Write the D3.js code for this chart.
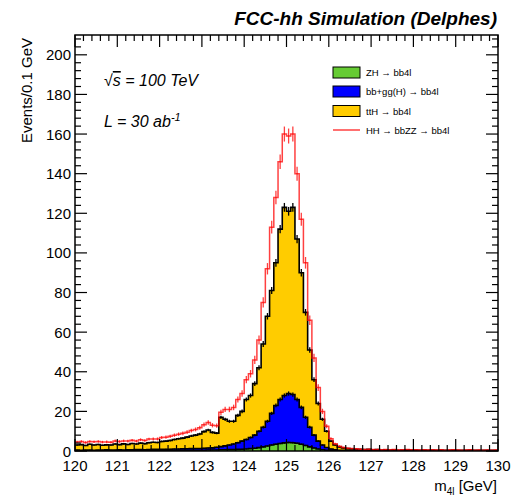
<!DOCTYPE html>
<html>
<head>
<meta charset="utf-8">
<script src="https://cdn.jsdelivr.net/npm/d3@7"></script>
<style>
  body { margin: 0; background: #fff; }
  text { font-family: "Liberation Sans", Arial, Helvetica, sans-serif; }
</style>
</head>
<body>
<script>
// m4l histogram, 100 bins of 0.1 GeV from 120 to 130
var xMin = 120, xMax = 130, binWidth = 0.1;

var zh = [
  0.1,0.1,0.1,0.1,0.1,0.1,0.1,0.1,0.1,0.1,
  0.1,0.1,0.1,0.1,0.1,0.2,0.1,0.2,0.2,0.2,
  0.2,0.2,0.2,0.2,0.3,0.3,0.3,0.3,0.4,0.4,
  0.4,0.5,0.5,0.5,0.6,0.6,0.7,0.7,0.8,0.9,
  1.0,1.2,1.4,1.7,2.1,2.5,3.0,3.4,3.8,4.1,
  4.3,4.2,3.9,3.4,2.8,2.1,1.5,1.0,0.6,0.4,
  0.25,0.15,0.1,0.1,0.05,0.05,0.05,0,0,0,
  0,0,0,0,0,0,0,0,0,0,
  0,0,0,0,0,0,0,0,0,0,
  0,0,0,0,0,0,0,0,0,0
];

var bbH = [
  0.4,0.3,0.4,0.4,0.3,0.4,0.4,0.5,0.4,0.4,
  0.5,0.4,0.5,0.5,0.6,0.5,0.5,0.5,0.6,0.6,
  0.6,0.7,0.7,0.8,0.7,0.8,0.8,0.9,0.9,0.9,
  1.0,1.0,1.1,1.4,1.6,2.0,2.3,2.8,3.4,4.1,
  4.8,5.6,6.6,8.3,9.9,12.5,16,19.6,22.2,23.9,
  24.7,24.3,22.1,18.6,14.2,9.9,6.5,4.0,2.4,1.4,
  0.75,0.45,0.3,0.2,0.25,0.15,0.15,0.2,0.1,0.1,
  0.1,0.1,0.1,0.1,0.1,0.1,0.1,0.1,0.1,0.1,
  0.1,0.1,0.1,0.1,0.1,0.1,0.1,0.1,0.1,0.1,
  0.1,0.1,0.1,0.1,0.1,0.1,0.1,0.1,0.1,0.1
];

var ttH = [
  2.5,2.8,2.3,2.9,2.6,2.8,2.4,2.5,2.5,3.0,
  2.6,3.1,2.7,3.2,2.8,3.3,3.1,3.5,3.6,3.5,
  4.0,4.1,4.4,4.8,5.2,5.4,5.9,6.4,6.7,7.3,
  8.4,9.1,7.8,7.1,14.8,13.4,12,11.5,13.8,15,
  20.2,21.2,26,32,42,53,62,72,86,95,
  92,94.5,81,68,53,39,28,19,13,8.2,
  4,2.4,1.6,1.2,0.9,0.8,0.7,0.6,0.6,0.7,
  0.5,0.6,0.4,0.5,0.4,0.5,0.3,0.4,0.5,0.4,
  0.4,0.3,0.4,0.3,0.4,0.3,0.4,0.2,0.3,0.4,
  0.3,0.2,0.3,0.4,0.2,0.3,0.2,0.3,0.2,0.3
];

var hh = [
  1.5,1.6,1.5,1.4,1.7,1.5,1.6,1.5,1.4,1.6,
  1.6,1.5,1.7,1.6,1.5,1.7,1.6,1.8,1.7,1.8,
  2.0,2.0,2.1,2.2,2.3,2.4,2.5,2.7,2.9,3.1,
  3.5,3.8,3.6,3.8,2.5,5.0,6,7,8,9,
  10,11,12,14,21,24,32,33,34,37,
  38,37,33,27,25,15,11,8,4,2.5,
  1.2,0.6,0.4,0.3,0.2,0.2,0.2,0.1,0.1,0.1,
  0.1,0.1,0.1,0.1,0.1,0.1,0.1,0.1,0.1,0.1,
  0.1,0.1,0.1,0.1,0.1,0.1,0.1,0.1,0.1,0.1,
  0.1,0.1,0.1,0.1,0.1,0.1,0.1,0.1,0.1,0.1
];

var legendLabels = ["ZH \u2192 bb4l", "bb+gg(H) \u2192 bb4l", "ttH \u2192 bb4l", "HH \u2192 bbZZ \u2192 bb4l"];
var fillColors = ["#66cc33", "#0000ff", "#ffcc00"];
var xTicks = d3.range(120, 131, 1);
var yTicks = d3.range(0, 201, 20);

var width = 512, height = 500;
var margin = {left: 75, right: 14, top: 35, bottom: 49};

var svg = d3.select("body").append("svg")
    .attr("width", width)
    .attr("height", height);

var x = d3.scaleLinear().domain([xMin, xMax]).range([margin.left, width - margin.right]);
var y = d3.scaleLinear().domain([0, 210]).range([height - margin.bottom, margin.top]);

svg.append("clipPath").attr("id", "plotclip")
  .append("rect")
    .attr("x", x(xMin)).attr("y", y(210))
    .attr("width", x(xMax) - x(xMin)).attr("height", y(0) - y(210));

// cumulative stacks
var cumZH = zh.slice();
var cumBB = zh.map(function (v, i) { return v + bbH[i]; });
var cumTT = cumBB.map(function (v, i) { return v + ttH[i]; });
var cumHH = cumTT.map(function (v, i) { return v + hh[i]; });

var stepPoints = function (vals) {
  var pts = vals.map(function (v, i) { return [xMin + i * binWidth, v]; });
  pts.push([xMax, vals[vals.length - 1]]);
  return pts;
};

var area = d3.area()
    .x(function (d) { return x(d[0]); })
    .y0(y(0))
    .y1(function (d) { return y(d[1]); })
    .curve(d3.curveStepAfter);

var line = d3.line()
    .x(function (d) { return x(d[0]); })
    .y(function (d) { return y(d[1]); })
    .curve(d3.curveStepAfter);

var plot = svg.append("g").attr("clip-path", "url(#plotclip)");

var drawErrors = function (vals, k, color, opacity) {
  plot.append("g").selectAll("line")
    .data(vals)
    .enter().append("line")
      .attr("x1", function (d, i) { return x(xMin + (i + 0.5) * binWidth); })
      .attr("x2", function (d, i) { return x(xMin + (i + 0.5) * binWidth); })
      .attr("y1", function (d) { return y(d - k * Math.sqrt(d)); })
      .attr("y2", function (d) { return y(d + k * Math.sqrt(d)); })
      .attr("stroke", color)
      .attr("stroke-opacity", opacity)
      .attr("stroke-width", 1.3);
};

// filled stack, largest first
[[cumTT, fillColors[2]], [cumBB, fillColors[1]], [cumZH, fillColors[0]]].forEach(function (s) {
  plot.append("path")
    .attr("d", area(stepPoints(s[0])))
    .attr("fill", s[1]);
});

[cumZH, cumBB, cumTT].forEach(function (s) {
  plot.append("path")
    .attr("d", line(stepPoints(s)))
    .attr("fill", "none")
    .attr("stroke", "#000")
    .attr("stroke-width", 1.6);
  drawErrors(s, 0.2, "#000", 1);
});

// HH on top of everything
plot.append("path")
  .attr("d", line(stepPoints(cumHH)))
  .attr("fill", "none")
  .attr("stroke", "#ff0000")
  .attr("stroke-opacity", 0.75)
  .attr("stroke-width", 1.5);
drawErrors(cumHH, 0.3, "#ff0000", 0.75);

// frame and ticks
var axes = svg.append("g").attr("stroke", "#000").attr("stroke-width", 1.2);
var x0 = x(xMin), x1 = x(xMax), y0 = y(0), y1 = y(210);

d3.range(120, 130.001, 0.2).forEach(function (t) {
  var major = Math.abs(t - Math.round(t)) < 1e-6;
  var len = major ? 12 : 6;
  axes.append("line").attr("x1", x(t)).attr("x2", x(t)).attr("y1", y0).attr("y2", y0 - len);
  axes.append("line").attr("x1", x(t)).attr("x2", x(t)).attr("y1", y1).attr("y2", y1 + len);
});

d3.range(0, 210.001, 4).forEach(function (t) {
  var major = t % 20 === 0;
  var len = major ? 12 : 6;
  axes.append("line").attr("x1", x0).attr("x2", x0 + len).attr("y1", y(t)).attr("y2", y(t));
  axes.append("line").attr("x1", x1).attr("x2", x1 - len).attr("y1", y(t)).attr("y2", y(t));
});

svg.append("rect")
  .attr("x", x0).attr("y", y1)
  .attr("width", x1 - x0).attr("height", y0 - y1)
  .attr("fill", "none").attr("stroke", "#000").attr("stroke-width", 1.5);

svg.append("g").selectAll("text")
  .data(xTicks)
  .enter().append("text")
    .attr("x", function (d) { return x(d); })
    .attr("y", y0 + 20)
    .attr("text-anchor", "middle")
    .attr("font-size", 15)
    .text(function (d) { return d; });

svg.append("g").selectAll("text")
  .data(yTicks)
  .enter().append("text")
    .attr("x", x0 - 4)
    .attr("y", function (d) { return y(d) + 5.5; })
    .attr("text-anchor", "end")
    .attr("font-size", 15)
    .text(function (d) { return d; });

// titles
svg.append("text")
  .attr("x", 497).attr("y", 25)
  .attr("text-anchor", "end")
  .attr("font-size", 19)
  .attr("font-weight", "bold")
  .attr("font-style", "italic")
  .text("FCC-hh Simulation (Delphes)");

svg.append("text")
  .attr("transform", "translate(32,38) rotate(-90)")
  .attr("text-anchor", "end")
  .attr("font-size", 15)
  .text("Events/0.1 GeV");

var xt = svg.append("text")
  .attr("x", 497).attr("y", 491)
  .attr("text-anchor", "end")
  .attr("font-size", 15);
xt.append("tspan").text("m");
xt.append("tspan").attr("font-size", 10).attr("dy", 4).text("4l");
xt.append("tspan").attr("dy", -4).text(" [GeV]");

var s1 = svg.append("text")
  .attr("x", 104).attr("y", 86)
  .attr("font-size", 16)
  .attr("font-style", "italic");
s1.append("tspan").text("\u221A");
s1.append("tspan").style("text-decoration", "overline").text("s");
s1.append("tspan").text(" = 100 TeV");

var s2 = svg.append("text")
  .attr("x", 104).attr("y", 127)
  .attr("font-size", 16)
  .attr("font-style", "italic");
s2.append("tspan").text("L = 30 ab");
s2.append("tspan").attr("font-size", 11).attr("dy", -6).text("-1");

// legend
var legend = svg.append("g");
var rowY = [72.5, 91.5, 111, 130];
legendLabels.forEach(function (label, i) {
  if (i < 3) {
    legend.append("rect")
      .attr("x", 333).attr("y", rowY[i] - 5.5)
      .attr("width", 27).attr("height", 11)
      .attr("fill", fillColors[i])
      .attr("stroke", "#000").attr("stroke-width", 1);
  } else {
    legend.append("line")
      .attr("x1", 333).attr("x2", 360)
      .attr("y1", rowY[i]).attr("y2", rowY[i])
      .attr("stroke", "#ff0000").attr("stroke-opacity", 0.75).attr("stroke-width", 1.5);
  }
  legend.append("text")
    .attr("x", 366).attr("y", rowY[i] + 3.5)
    .attr("font-size", 9.5)
    .text(label);
});
</script>
</body>
</html>
